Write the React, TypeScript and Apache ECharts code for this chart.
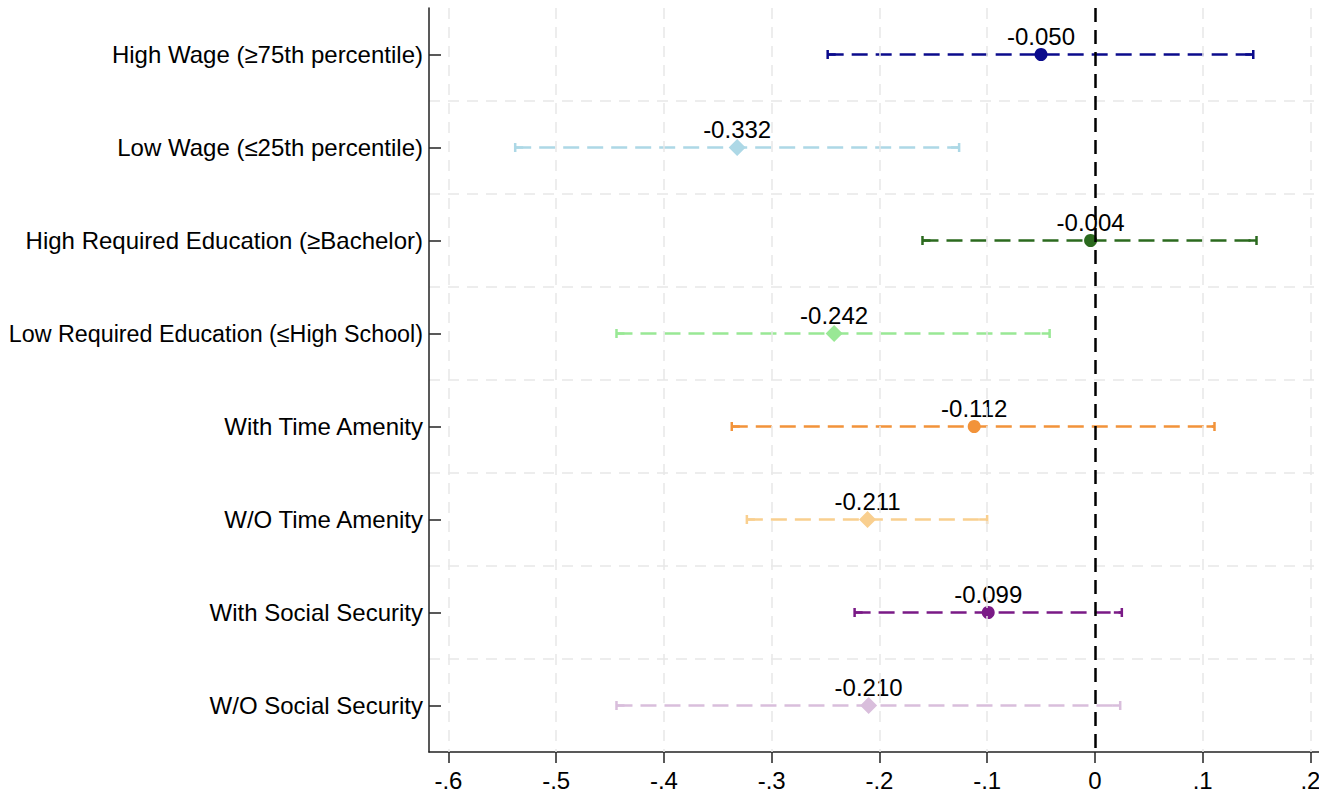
import React, { useEffect, useRef } from "react";
import * as echarts from "echarts";

const categories = [
  "High Wage (≥75th percentile)",
  "Low Wage (≤25th percentile)",
  "High Required Education (≥Bachelor)",
  "Low Required Education (≤High School)",
  "With Time Amenity",
  "W/O Time Amenity",
  "With Social Security",
  "W/O Social Security",
];
const estimates = [-0.05, -0.332, -0.004, -0.242, -0.112, -0.211, -0.099, -0.21];
const lowerCI = [-0.248, -0.538, -0.16, -0.444, -0.337, -0.323, -0.223, -0.444];
const upperCI = [0.147, -0.126, 0.15, -0.042, 0.111, -0.1, 0.025, 0.0235];
const colors = ["#0b0b8c", "#add8e6", "#2b6a1e", "#99e895", "#f2933a", "#f9cf8f", "#7a1a86", "#d9bedc"];
const symbols = ["circle", "diamond", "circle", "diamond", "circle", "diamond", "circle", "diamond"];
const xTicks = [-0.6, -0.5, -0.4, -0.3, -0.2, -0.1, 0, 0.1, 0.2];

const FONT = "'Liberation Sans', Arial, Helvetica, sans-serif";
const FS = 24;

function fmtTick(v: number): string {
  if (Math.abs(v) < 1e-9) return "0";
  const d = Math.round(Math.abs(v) * 10);
  return (v < 0 ? "-" : "") + "." + d;
}

export default function App() {
  const ref = useRef<HTMLDivElement>(null);
  useEffect(() => {
    if (!ref.current) return;
    const chart = echarts.init(ref.current, null, { renderer: "svg" });
    const ciData = categories.map((_, i) => [lowerCI[i], upperCI[i], i]);
    const pointData = categories.map((c, i) => ({
      value: [estimates[i], i],
      symbol: symbols[i],
      symbolSize: symbols[i] === "circle" ? 13 : 17,
      itemStyle: { color: colors[i], opacity: 1 },
    }));
    const catData = categories.map((c) =>
      c.length > 36 ? { value: c, textStyle: { fontSize: 23.3 } } : c
    );
    chart.setOption({
      animation: false,
      grid: { left: 429, right: 0, top: 8, bottom: 42, containLabel: false, outerBoundsMode: "none" },
      xAxis: {
        type: "value",
        min: -0.618,
        max: 0.208,
        axisLine: { show: true, onZero: false, lineStyle: { color: "#222", width: 1.5 } },
        axisTick: { show: true, length: 11, customValues: xTicks, lineStyle: { color: "#222", width: 1.5 } },
        axisLabel: {
          show: true,
          customValues: xTicks,
          formatter: (v: number) => fmtTick(v),
          fontSize: FS,
          fontFamily: FONT,
          color: "#000",
          margin: 16,
        },
        splitLine: { show: false },
      },
      yAxis: [
        {
          type: "category",
          data: catData,
          inverse: true,
          boundaryGap: true,
          axisLine: { show: true, onZero: false, lineStyle: { color: "#222", width: 1.5 } },
          axisTick: { show: true, inside: true, length: 12, alignWithLabel: true, lineStyle: { color: "#222", width: 1.5 } },
          axisLabel: { fontSize: FS, fontFamily: FONT, color: "#000", margin: 6 },
          splitLine: { show: false },
        },
        {
          type: "value",
          min: 0,
          max: 8,
          interval: 1,
          inverse: true,
          show: true,
          axisLine: { show: false, onZero: false },
          axisTick: { show: false },
          axisLabel: { show: false },
          splitLine: {
            show: true,
            showMinLine: false,
            showMaxLine: false,
            lineStyle: { color: "#e8e8e8", width: 1.5, type: [11, 8] },
          },
        },
      ],
      series: [
        {
          type: "scatter",
          yAxisIndex: 0,
          data: [],
          silent: true,
          z: 1,
          markLine: {
            silent: true,
            symbol: "none",
            label: { show: false },
            animation: false,
            data: xTicks.filter((t) => Math.abs(t) > 1e-9).map((t) => ({
              xAxis: t,
              lineStyle: { color: "#e8e8e8", width: 1.5, type: [11, 8], opacity: 1 },
            })).concat([
              { xAxis: 0, lineStyle: { color: "#000", width: 2.5, type: [14, 8], opacity: 1 } } as any,
            ]),
          },
        },
        {
          type: "custom",
          yAxisIndex: 0,
          z: 3,
          data: ciData,
          renderItem: (params: any, api: any) => {
            const lo = api.value(0);
            const hi = api.value(1);
            const idx = api.value(2);
            const p1 = api.coord([lo, idx]);
            const p2 = api.coord([hi, idx]);
            const col = colors[idx];
            const h = 4.5;
            return {
              type: "group",
              children: [
                {
                  type: "line",
                  shape: { x1: p1[0], y1: p1[1], x2: p2[0], y2: p2[1] },
                  style: { stroke: col, lineWidth: 2.5, lineDash: [16, 8] },
                },
                {
                  type: "line",
                  shape: { x1: p1[0], y1: p1[1] - h, x2: p1[0], y2: p1[1] + h },
                  style: { stroke: col, lineWidth: 2.5 },
                },
                {
                  type: "line",
                  shape: { x1: p2[0], y1: p2[1] - h, x2: p2[0], y2: p2[1] + h },
                  style: { stroke: col, lineWidth: 2.5 },
                },
                {
                  type: "line",
                  shape: { x1: p1[0], y1: p1[1], x2: p1[0] + 8, y2: p1[1] },
                  style: { stroke: col, lineWidth: 2.5 },
                },
                {
                  type: "line",
                  shape: { x1: p2[0] - 8, y1: p2[1], x2: p2[0], y2: p2[1] },
                  style: { stroke: col, lineWidth: 2.5 },
                },
              ],
            };
          },
        },
        {
          type: "scatter",
          yAxisIndex: 0,
          z: 4,
          data: pointData,
          itemStyle: { opacity: 1 },
          label: {
            show: true,
            position: "inside",
            offset: [0, -18],
            formatter: (p: any) => p.value[0].toFixed(3),
            fontSize: FS,
            fontFamily: FONT,
            color: "#000",
            opacity: 1,
          },
        },
      ],
    });
    return () => chart.dispose();
  }, []);
  return (
    <div
      ref={ref}
      style={{ position: "fixed", left: 0, top: 0, width: 1319, height: 794, background: "#fff" }}
    />
  );
}
